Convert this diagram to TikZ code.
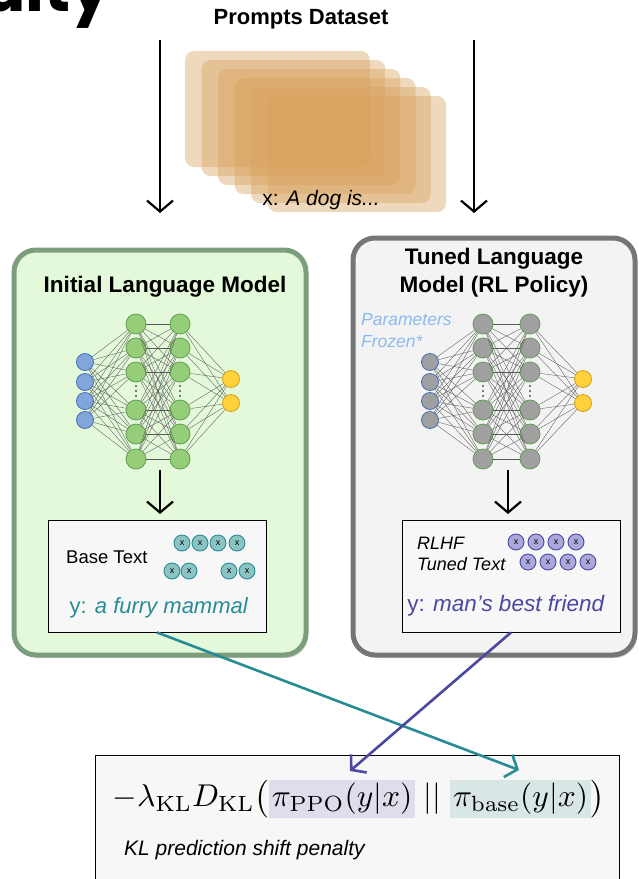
\documentclass[tikz,border=0pt]{standalone}
\usepackage[no-math]{fontspec}
\setmainfont{Liberation Sans}
\newfontfamily\popfont{Poppins}
\usepackage{graphicx}
\usetikzlibrary{arrows.meta,shadows,calc}

\definecolor{cardc}{RGB}{215,160,90}
\definecolor{lfill}{RGB}{228,248,218}
\definecolor{lborder}{RGB}{125,158,125}
\definecolor{rfill}{RGB}{243,243,243}
\definecolor{rborder}{RGB}{118,118,118}
\definecolor{tealc}{RGB}{40,140,150}
\definecolor{purc}{RGB}{75,72,160}
\definecolor{bluen}{RGB}{130,165,220}
\definecolor{blueb}{RGB}{70,110,180}
\definecolor{greenn}{RGB}{150,205,120}
\definecolor{greenb}{RGB}{95,160,80}
\definecolor{yelln}{RGB}{255,210,60}
\definecolor{yellb}{RGB}{210,160,20}
\definecolor{grayn}{RGB}{160,160,160}
\definecolor{tealdot}{RGB}{140,195,195}
\definecolor{purdot}{RGB}{170,168,220}
\definecolor{pphl}{RGB}{221,221,235}
\definecolor{bshl}{RGB}{216,230,230}
\definecolor{frozenc}{RGB}{140,185,240}
\definecolor{boxfill}{RGB}{247,247,247}

\newcommand\nnet[5]{%
  \foreach \k/\yy in {1/362,2/382,3/401,4/420} {\node[nin] (#1in\k) at (#2,\yy) {};}
  \foreach \k/\yy in {1/324,2/348,3/372,4/410,5/434,6/459} {\node[nhid] (#1ha\k) at (#3,\yy) {}; \node[nhid] (#1hb\k) at (#4,\yy) {};}
  \foreach \k/\yy in {1/379,2/403} {\node[nout] (#1out\k) at (#5,\yy) {};}
  \foreach \a in {1,...,4} {\foreach \b in {1,...,6} {\draw[wire] (#1in\a) -- (#1ha\b);}}
  \foreach \a in {1,...,6} {\foreach \b in {1,...,6} {\draw[wire] (#1ha\a) -- (#1hb\b);}}
  \foreach \a in {1,...,6} {\foreach \b in {1,2} {\draw[wire] (#1hb\a) -- (#1out\b);}}
  \foreach \xx in {#3,#4} {\foreach \yy in {386,391,396} {\fill (\xx,\yy) circle (0.9pt);}}
}

\begin{document}
\begin{tikzpicture}[x=1pt,y=-1pt,
  card/.style={rounded corners=9pt, fill=cardc, fill opacity=0.4},
  bigbox/.style={rounded corners=22pt, line width=5pt, drop shadow={opacity=0.3, shadow xshift=2pt, shadow yshift=-3pt}},
  tbox/.style={draw=black, line width=0.9pt, fill=boxfill, minimum width=218, minimum height=112, inner sep=0},
  titlef/.style={font=\bfseries\fontsize{22.5}{28}\selectfont, align=center},
  barrow/.style={line width=2.2pt, -{Straight Barb[length=11pt,width=26pt]}},
  carrow/.style={line width=2.6pt, -{Straight Barb[length=10pt,width=24pt]}},
  wire/.style={draw=black!65, line width=0.35pt},
  tdot/.style={circle, minimum size=16, inner sep=0, fill=tealdot, draw=tealc, line width=0.9pt, font=\fontsize{9}{9}\selectfont},
  pdot/.style={circle, minimum size=16, inner sep=0, fill=purdot, draw=purc, line width=0.9pt, font=\fontsize{9}{9}\selectfont},
]
\useasboundingbox (0,0) rectangle (638,879);

% cut title
\node[anchor=base east, font=\popfont\bfseries\fontsize{64}{64}\selectfont, inner sep=0] (alty) at (111,11) {alty};

% prompts dataset
\node[font=\bfseries\fontsize{22}{26}\selectfont] (ptitle) at (301,19) {Prompts Dataset};
\foreach \i in {0,...,5} {
  \path[card] (185+16.5*\i, 51+9*\i) rectangle (370+15.2*\i, 167+9*\i);
}
\node[font=\fontsize{21}{25}\selectfont] (xprompt) at (321,200) {x: \textit{A dog is...}};

% big boxes
\node[bigbox, draw=lborder, fill=lfill, minimum width=292, minimum height=405] (lmodel) at (160,452.5) {};
\node[bigbox, draw=rborder, fill=rfill, minimum width=282, minimum height=417] (rmodel) at (494,446.5) {};

\node[titlef] (ltitle) at (165,287) {Initial Language Model};
\node[titlef] (rtitle) at (494,273) {Tuned Language\\Model (RL Policy)};

% top arrows
\coordinate (la0) at (160,40); \coordinate (la1) at (160,213);
\coordinate (ra0) at (474,40); \coordinate (ra1) at (474,213);
\draw[barrow] (la0) -- (la1);
\draw[barrow] (ra0) -- (ra1);

% networks
\begin{scope}[nin/.style={circle, minimum size=17, inner sep=0, fill=bluen, draw=blueb, line width=0.8pt},
  nhid/.style={circle, minimum size=20, inner sep=0, fill=greenn, draw=greenb, line width=0.8pt},
  nout/.style={circle, minimum size=17, inner sep=0, fill=yelln, draw=yellb, line width=0.8pt}]
\nnet{L}{85}{136}{180}{231}
\end{scope}
\begin{scope}[nin/.style={circle, minimum size=17, inner sep=0, fill=grayn, draw=blueb, line width=0.8pt},
  nhid/.style={circle, minimum size=20, inner sep=0, fill=grayn, draw=greenb, line width=0.8pt},
  nout/.style={circle, minimum size=17, inner sep=0, fill=yelln, draw=yellb, line width=0.8pt}]
\nnet{R}{430}{483}{530}{583}
\end{scope}

\node[anchor=west, align=left, text=frozenc, font=\itshape\fontsize{17.5}{22}\selectfont, inner sep=0] (frz) at (361,331) {Parameters\\Frozen*};

% arrows to text boxes
\coordinate (lb0) at (160,470); \coordinate (lb1) at (160,514);
\coordinate (rb0) at (508,470); \coordinate (rb1) at (508,514);
\draw[barrow] (lb0) -- (lb1);
\draw[barrow] (rb0) -- (rb1);

% text boxes
\node[tbox] (ltext) at (157,576) {};
\node[anchor=west, font=\fontsize{18.5}{22}\selectfont, inner sep=0] (lbase) at (66,557) {Base Text};
\node[text=tealc, font=\fontsize{22}{26}\selectfont] (ly) at (159,608) {y: \textit{a furry mammal}};
\foreach \n/\x/\y in {a1/182/543,a2/200/543,a3/218/543,a4/237/543,b1/172/571,b2/189/571,b3/229/571,b4/247/571} {
  \node[tdot] (t\n) at (\x,\y) {x};
}

\node[tbox] (rtext) at (511,576) {};
\node[anchor=west, font=\itshape\fontsize{18}{22}\selectfont, inner sep=0] (rl1) at (417,543) {RLHF};
\node[anchor=west, font=\itshape\fontsize{18}{22}\selectfont, inner sep=0] (rl2) at (417,564) {Tuned Text};
\node[text=purc, font=\fontsize{22.5}{26}\selectfont] (ry) at (506,606) {y: \textit{man’s best friend}};
\foreach \n/\x/\y in {a1/516/542,a2/536/542,a3/556/542,a4/576/542,b1/528/562,b2/548/562,b3/568/562,b4/588/562} {
  \node[pdot] (p\n) at (\x,\y) {x};
}

% KL box
\node[draw=black, line width=0.9pt, fill=boxfill, minimum width=524, minimum height=160, anchor=north west, inner sep=0] (kl) at (95,755) {};
\setlength{\fboxsep}{0.9pt}
\node[inner sep=0] (formula) at (359,799) {\scalebox{3.15}{$-\lambda_{\mathrm{KL}}D_{\mathrm{KL}}\bigl(\colorbox{pphl}{$\pi_{\mathrm{PPO}}(y|x)$}\ ||\ \colorbox{bshl}{$\pi_{\mathrm{base}}(y|x)$}\bigr)$}};
\node[anchor=west, font=\itshape\fontsize{21}{25}\selectfont, inner sep=0] (pen) at (124,850) {KL prediction shift penalty};

% connectors
\coordinate (tend) at (519,770);
\coordinate (pend) at (350,771);
\draw[carrow, draw=tealc] (ltext.south) -- (tend);
\draw[carrow, draw=purc] (rtext.south) -- (pend);
\end{tikzpicture}
\end{document}
